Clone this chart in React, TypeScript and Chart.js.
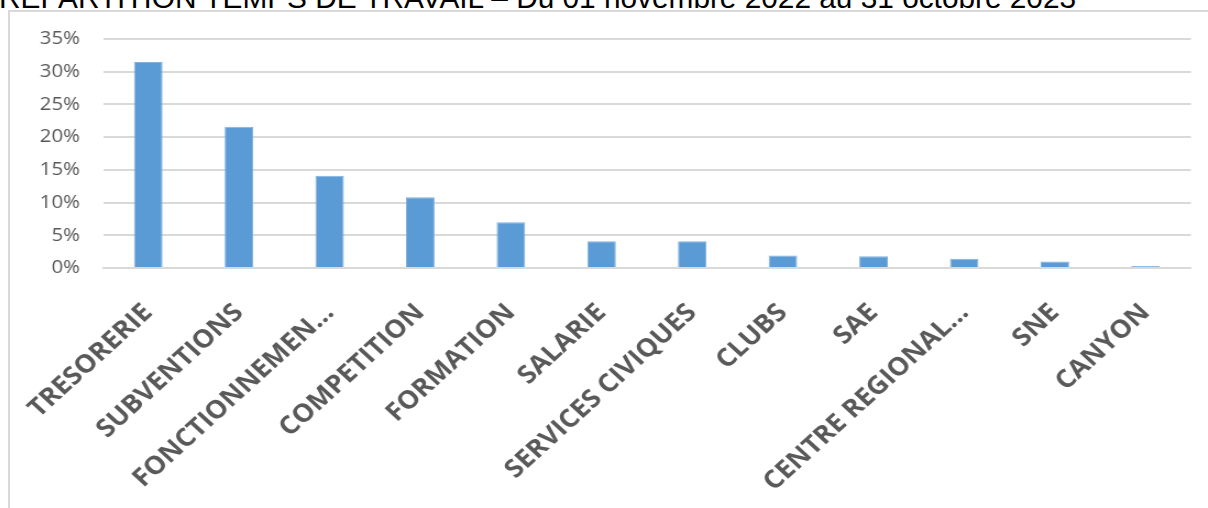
import React, { useEffect, useRef } from "react";
import { Chart, registerables } from "chart.js";

Chart.register(...registerables);

const titleText = "REPARTITION TEMPS DE TRAVAIL – Du 01 novembre 2022 au 31 octobre 2023";
const categories = [
  "TRESORERIE",
  "SUBVENTIONS",
  "FONCTIONNEMEN...",
  "COMPETITION",
  "FORMATION",
  "SALARIE",
  "SERVICES CIVIQUES",
  "CLUBS",
  "SAE",
  "CENTRE REGIONAL...",
  "SNE",
  "CANYON",
];
const shares = [31.5, 21.6, 14.1, 10.8, 7.0, 4.1, 4.1, 1.9, 1.8, 1.4, 1.0, 0.3];
const yMax = 35;
const yStep = 5;

// the reference picture is horizontally stretched; emulate it with a CSS scale
const STRETCH = 1.1;
const CANVAS_W = 1089;
const CANVAS_H = 496;

const noLabelClip = {
  id: "noLabelClip",
  beforeDraw(chart: any) {
    const s = chart.scales && chart.scales.x;
    if (s) s._computeLabelArea = () => undefined;
  },
};

export default function App() {
  const ref = useRef<HTMLCanvasElement | null>(null);

  useEffect(() => {
    if (!ref.current) return;
    const chart = new Chart(ref.current, {
      type: "bar",
      data: {
        labels: categories,
        datasets: [
          {
            data: shares,
            backgroundColor: "#5B9BD5",
            borderColor: "#7FB0DE",
            borderWidth: 1,
            barPercentage: 0.315,
            categoryPercentage: 1,
          },
        ],
      },
      options: {
        animation: false,
        responsive: false,
        maintainAspectRatio: false,
        layout: { padding: { top: 27, right: 15.5, left: 0, bottom: 11 } },
        plugins: { legend: { display: false }, tooltip: { enabled: false }, title: { display: false } },
        scales: {
          x: {
            clip: false,
            grid: { display: false, drawTicks: false },
            border: { display: true, color: "#D9D9D9", width: 2 },
            ticks: {
              autoSkip: false,
              minRotation: 45,
              maxRotation: 45,
              color: "#595959",
              font: { family: "'Open Sans'", size: 25, weight: "bold" },
              padding: 30,
              labelOffset: 0,
            },
            afterFit: (s: any) => {
              s.height = 229;
              s.paddingLeft = 0;
              s.paddingRight = 0;
            },
          },
          y: {
            min: 0,
            max: yMax,
            grid: { color: "#D9D9D9", lineWidth: 2, drawTicks: false },
            border: { display: false },
            ticks: {
              stepSize: yStep,
              color: "#595959",
              font: { family: "'Open Sans'", size: 18.5 },
              padding: 21,
              callback: (v: any) => v + "%",
            },
            afterFit: (s: any) => {
              s.width = 84.5;
              s.paddingTop = 0;
              s.paddingBottom = 0;
            },
          },
        },
      },
      plugins: [noLabelClip],
    });
    return () => chart.destroy();
  }, []);

  return (
    <div
      style={{
        position: "fixed",
        left: 0,
        top: 0,
        width: 1208,
        height: 508,
        overflow: "hidden",
        background: "#fff",
      }}
    >
      <div
        style={{
          position: "absolute",
          left: -1,
          top: -17,
          fontFamily: "'Liberation Sans', Arial, sans-serif",
          fontSize: 29.8,
          lineHeight: "30px",
          color: "#000",
          whiteSpace: "nowrap",
        }}
      >
        {titleText}
      </div>
      <div
        style={{
          position: "absolute",
          left: 8,
          top: 10,
          width: 1220,
          height: 520,
          border: "2px solid #D9D9D9",
          boxSizing: "border-box",
        }}
      />
      <canvas
        ref={ref}
        width={CANVAS_W}
        height={CANVAS_H}
        style={{
          position: "absolute",
          left: 10,
          top: 12,
          width: CANVAS_W,
          height: CANVAS_H,
          transform: `scaleX(${STRETCH})`,
          transformOrigin: "0 0",
        }}
      />
    </div>
  );
}
